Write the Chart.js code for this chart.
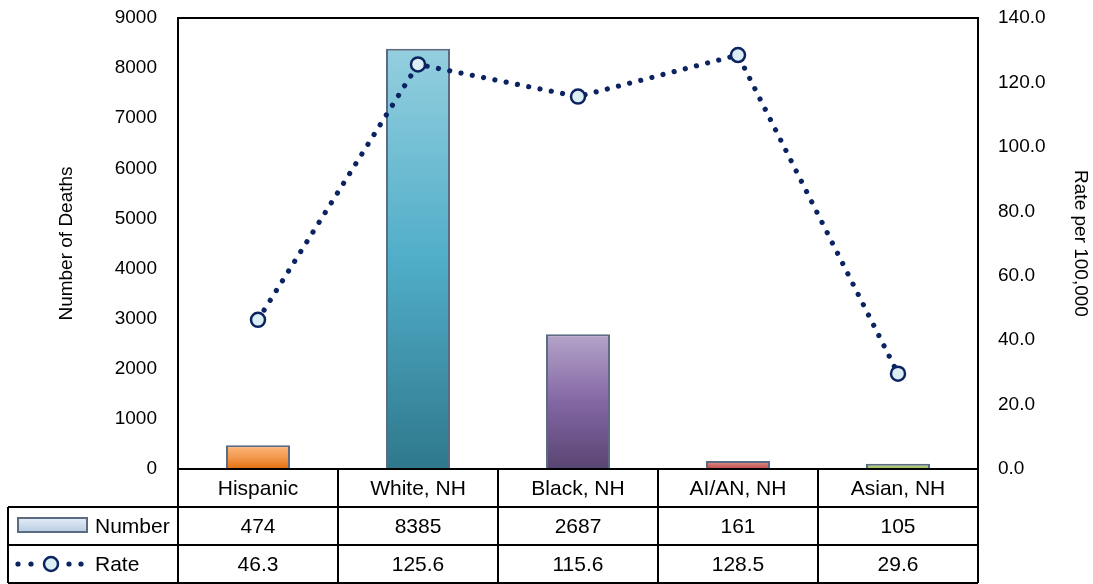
<!DOCTYPE html>
<html>
<head>
<meta charset="utf-8">
<script src="https://cdn.jsdelivr.net/npm/chart.js@4/dist/chart.umd.min.js"></script>
<style>
html,body{margin:0;padding:0;background:#fff;}
#wrap{position:relative;width:1093px;height:584px;}
</style>
</head>
<body>
<div id="wrap"><canvas id="c"></canvas></div>
<script>
const categories = ['Hispanic', 'White, NH', 'Black, NH', 'AI/AN, NH', 'Asian, NH'];
const numberOfDeaths = [474, 8385, 2687, 161, 105];
const ratePer100k = [46.3, 125.6, 115.6, 128.5, 29.6];
const seriesNames = ['Number', 'Rate'];
const leftTitle = 'Number of Deaths';
const rightTitle = 'Rate per 100,000';

const FONT = "'Liberation Sans', Arial, sans-serif";
const barGradients = [
  ['#fdb77d', '#f39a4f', '#e2700f'],
  ['#94cfdf', '#50aec8', '#2f788c'],
  ['#b5a4c9', '#8367a4', '#594572'],
  ['#e19a97', '#d06e6b', '#be4f4c'],
  ['#c8da9f', '#b0ca7b', '#97b856']
];
const barBorder = '#5a6b82';
const lineColor = '#0b2461';
const pointFill = '#dbeef4';

function barBg(ctx) {
  const chart = ctx.chart;
  const ys = chart.scales && chart.scales.y;
  const i = ctx.dataIndex;
  const stops = barGradients[i % barGradients.length];
  if (!ys || !chart.chartArea) return stops[1];
  const top = ys.getPixelForValue(ctx.raw);
  const base = ys.getPixelForValue(0);
  const g = chart.ctx.createLinearGradient(0, top, 0, Math.max(base, top + 1));
  g.addColorStop(0, stops[0]);
  g.addColorStop(0.5, stops[1]);
  g.addColorStop(1, stops[2]);
  return g;
}

const tablePlugin = {
  id: 'tableAndFrame',
  afterDraw(chart) {
    const c = chart.ctx;
    const a = chart.chartArea;
    const xs = chart.scales.x;
    const n = categories.length;
    const step = (a.right - a.left) / n;
    const rowH = [a.bottom, 507, 545, 583];
    const tableLeft = 8;
    c.save();
    c.strokeStyle = '#000';
    c.lineWidth = 2;
    c.strokeRect(a.left, a.top, a.right - a.left, a.bottom - a.top);
    c.beginPath();
    for (let k = 0; k <= n; k++) {
      const x = a.left + k * step;
      c.moveTo(x, rowH[0]); c.lineTo(x, rowH[3]);
    }
    c.moveTo(tableLeft, rowH[1]); c.lineTo(a.right, rowH[1]);
    c.moveTo(tableLeft, rowH[2]); c.lineTo(a.right, rowH[2]);
    c.moveTo(tableLeft, rowH[3]); c.lineTo(a.right, rowH[3]);
    c.moveTo(tableLeft, rowH[1]); c.lineTo(tableLeft, rowH[3]);
    c.stroke();
    c.fillStyle = '#000';
    c.font = '21px ' + FONT;
    c.textAlign = 'center';
    c.textBaseline = 'middle';
    for (let k = 0; k < n; k++) {
      const cx = xs.getPixelForValue(k);
      c.fillText(categories[k], cx, (rowH[0] + rowH[1]) / 2 + 1);
      c.fillText(String(numberOfDeaths[k]), cx, (rowH[1] + rowH[2]) / 2 + 1);
      c.fillText(ratePer100k[k].toFixed(1), cx, (rowH[2] + rowH[3]) / 2 + 1);
    }
    c.textAlign = 'left';
    c.fillText(seriesNames[0], 95, (rowH[1] + rowH[2]) / 2 + 1);
    c.fillText(seriesNames[1], 95, (rowH[2] + rowH[3]) / 2 + 1);
    const sg = c.createLinearGradient(0, 518, 0, 532);
    sg.addColorStop(0, '#e4ecf5');
    sg.addColorStop(1, '#b9cde3');
    c.fillStyle = sg;
    c.fillRect(18, 518, 69, 14);
    c.strokeStyle = barBorder;
    c.lineWidth = 2;
    c.strokeRect(18, 518, 69, 14);
    const ly = (rowH[2] + rowH[3]) / 2;
    c.fillStyle = lineColor;
    [18, 31, 69, 81].forEach(x => { c.beginPath(); c.arc(x, ly, 2.6, 0, Math.PI * 2); c.fill(); });
    c.beginPath();
    c.arc(51, ly, 7, 0, Math.PI * 2);
    c.fillStyle = pointFill; c.fill();
    c.strokeStyle = lineColor; c.lineWidth = 2.5; c.stroke();
    c.restore();
  }
};

function fitAxis(width) {
  return function (s) { s.width = width; s.paddingTop = 0; s.paddingBottom = 0; };
}

new Chart(document.getElementById('c'), {
  data: {
    labels: categories,
    datasets: [
      {
        type: 'line', label: seriesNames[1], data: ratePer100k, yAxisID: 'y2',
        borderColor: lineColor, borderWidth: 5.2, borderDash: [0.01, 11.5], borderCapStyle: 'round',
        pointRadius: 7, pointHoverRadius: 7, pointBackgroundColor: pointFill, pointBorderColor: lineColor,
        pointBorderWidth: 2.5, tension: 0, fill: false, order: 0
      },
      {
        type: 'bar', label: seriesNames[0], data: numberOfDeaths, yAxisID: 'y',
        backgroundColor: barBg, borderColor: barBorder, borderWidth: 2,
        barPercentage: 0.4, categoryPercentage: 1.0, order: 1
      }
    ]
  },
  options: {
    responsive: true, maintainAspectRatio: false, animation: false,
    layout: { padding: { top: 18, bottom: 115, left: 0, right: 0 } },
    plugins: { legend: { display: false }, tooltip: { enabled: false } },
    scales: {
      x: { display: false, offset: true, grid: { display: false } },
      y: {
        position: 'left', min: 0, max: 9000,
        ticks: { stepSize: 1000, color: '#000', padding: 21, font: { family: FONT, size: 19 }, callback: v => String(v) },
        grid: { display: false, drawTicks: false },
        border: { display: false },
        title: { display: true, text: leftTitle, color: '#000', font: { family: FONT, size: 19 }, padding: { top: 55, bottom: 0 } },
        afterFit: fitAxis(178)
      },
      y2: {
        position: 'right', min: 0, max: 140,
        ticks: { stepSize: 20, color: '#000', padding: 20, font: { family: FONT, size: 19 }, callback: v => Number(v).toFixed(1) },
        grid: { display: false, drawTicks: false },
        border: { display: false },
        title: { display: true, text: rightTitle, color: '#000', font: { family: FONT, size: 19 }, padding: { top: 1, bottom: 0 } },
        afterFit: fitAxis(115)
      }
    }
  },
  plugins: [tablePlugin]
});
</script>
</body>
</html>
